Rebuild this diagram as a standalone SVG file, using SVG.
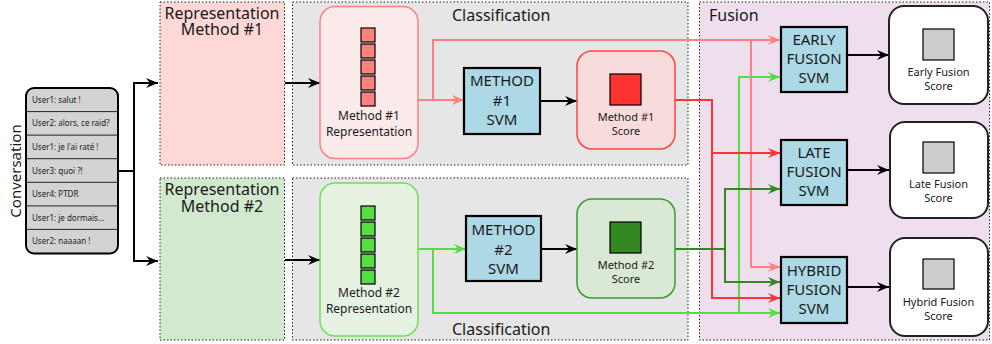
<svg xmlns="http://www.w3.org/2000/svg" width="992" height="344" viewBox="0 0 992 344">
<defs>
<style>
text{font-family:"Noto Sans","Open Sans","DejaVu Sans",sans-serif;fill:#1a1a1a}
.area{stroke:#222;stroke-width:1;stroke-dasharray:1.5 2}
.title{font-size:16px}
.mid{text-anchor:middle}
.row{font-size:8px}
.svm{fill:#add8e6;stroke:#000;stroke-width:2.2}
.svmt{font-size:15px;text-anchor:middle}
.sm{font-size:12px;text-anchor:middle}
.xs{font-size:11px;text-anchor:middle}
.sq{stroke:#000;stroke-width:1.2}
.c{fill:none;stroke-width:2}
.k{stroke:#000}
.pk{stroke:#ff8080}
.rd{stroke:#ff3333}
.gn{stroke:#55dd44}
.dg{stroke:#338822}
</style>
<marker id="ak" viewBox="0 0 12 10" refX="12" refY="5" markerWidth="12" markerHeight="10" markerUnits="userSpaceOnUse" orient="auto"><path d="M0,0 L12,5 L0,10 L4,5 z" fill="#000"/></marker>
<marker id="apk" viewBox="0 0 12 10" refX="12" refY="5" markerWidth="12" markerHeight="10" markerUnits="userSpaceOnUse" orient="auto"><path d="M0,0 L12,5 L0,10 L4,5 z" fill="#ff8080"/></marker>
<marker id="ard" viewBox="0 0 12 10" refX="12" refY="5" markerWidth="12" markerHeight="10" markerUnits="userSpaceOnUse" orient="auto"><path d="M0,0 L12,5 L0,10 L4,5 z" fill="#ff3333"/></marker>
<marker id="agn" viewBox="0 0 12 10" refX="12" refY="5" markerWidth="12" markerHeight="10" markerUnits="userSpaceOnUse" orient="auto"><path d="M0,0 L12,5 L0,10 L4,5 z" fill="#55dd44"/></marker>
<marker id="adg" viewBox="0 0 12 10" refX="12" refY="5" markerWidth="12" markerHeight="10" markerUnits="userSpaceOnUse" orient="auto"><path d="M0,0 L12,5 L0,10 L4,5 z" fill="#338822"/></marker>
</defs>
<rect width="992" height="344" fill="#fff"/>

<g id="areas">
<rect class="area" x="160" y="2" width="124.5" height="163" fill="#fdd8d6"/>
<text class="title mid" x="222" y="18.5">Representation</text>
<text class="title mid" x="222" y="35">Method #1</text>
<rect class="area" x="160" y="178" width="124.5" height="162" fill="#d2e9cf"/>
<text class="title mid" x="222" y="195">Representation</text>
<text class="title mid" x="222" y="211.5">Method #2</text>
<rect class="area" x="292.5" y="2" width="395.5" height="163" fill="#e6e6e6"/>
<text class="title" x="452" y="21">Classification</text>
<rect class="area" x="292.5" y="178" width="395.5" height="162" fill="#e6e6e6"/>
<text class="title" x="452" y="335">Classification</text>
<rect class="area" x="699.5" y="2" width="290" height="338" fill="#efdeed"/>
<text class="title" x="709" y="21">Fusion</text>
</g>

<g id="conversation">
<text x="21" y="171" font-size="15" text-anchor="middle" transform="rotate(-90 21 171)">Conversation</text>
<rect x="26" y="88" width="92" height="165.5" rx="8" fill="#d3d3d3" stroke="#000" stroke-width="2"/>
<path d="M26,111.6H118M26,135.1H118M26,158.7H118M26,182.3H118M26,205.9H118M26,229.4H118" stroke="#222" stroke-width="1"/>
<text class="row" x="32" y="102.8">User1: salut !</text>
<text class="row" x="32" y="126.4">User2: alors, ce raid?</text>
<text class="row" x="32" y="150">User1: je l'ai raté !</text>
<text class="row" x="32" y="173.6">User3: quoi ?!</text>
<text class="row" x="32" y="197.2">User4: PTDR</text>
<text class="row" x="32" y="220.8">User1: je dormais...</text>
<text class="row" x="32" y="244.4">User2: naaaan !</text>
</g>

<g id="connectors">
<path class="c k" d="M118,171H134M134,82V262"/>
<path class="c k" d="M133,83H158" marker-end="url(#ak)"/>
<path class="c k" d="M133,261H158" marker-end="url(#ak)"/>
<path class="c k" d="M285,83H320" marker-end="url(#ak)"/>
<path class="c k" d="M285,260H320" marker-end="url(#ak)"/>
<path class="c pk" d="M418,100H464" marker-end="url(#apk)"/>
<path class="c pk" d="M433,100V40H780" marker-end="url(#apk)"/>
<path class="c pk" d="M751,40V267H780" marker-end="url(#apk)"/>
<path class="c k" d="M540,101H577" marker-end="url(#ak)"/>
<path class="c gn" d="M418,249H466" marker-end="url(#agn)"/>
<path class="c gn" d="M433,249V313H780" marker-end="url(#agn)"/>
<path class="c gn" d="M739,313V77H780" marker-end="url(#agn)"/>
<path class="c k" d="M541,249H577" marker-end="url(#ak)"/>
<path class="c rd" d="M675,100H712V298H780" marker-end="url(#ard)"/>
<path class="c rd" d="M712,153H780" marker-end="url(#ard)"/>
<path class="c dg" d="M675,249H725V189H780" marker-end="url(#adg)"/>
<path class="c dg" d="M725,249V282H780" marker-end="url(#adg)"/>
<path class="c k" d="M847,55H889" marker-end="url(#ak)"/>
<path class="c k" d="M847,170H889" marker-end="url(#ak)"/>
<path class="c k" d="M847,287H889" marker-end="url(#ak)"/>
</g>

<g id="rep1">
<rect x="320" y="6.5" width="98" height="152" rx="15" fill="#faeaea" stroke="#ff8080" stroke-width="1.5"/>
<g fill="#ff8080" class="sq">
<rect x="361" y="28" width="14" height="14"/><rect x="361" y="44" width="14" height="14"/><rect x="361" y="60" width="14" height="14"/><rect x="361" y="76" width="14" height="14"/><rect x="361" y="92" width="14" height="14"/>
</g>
<text class="sm" x="369" y="120">Method #1</text>
<text class="sm" x="369" y="136">Representation</text>
</g>

<g id="rep2">
<rect x="320" y="183" width="98" height="153" rx="15" fill="#e6f3e3" stroke="#6ee05a" stroke-width="1.5"/>
<g fill="#55dd44" class="sq">
<rect x="361" y="206" width="14" height="14"/><rect x="361" y="222" width="14" height="14"/><rect x="361" y="238" width="14" height="14"/><rect x="361" y="254" width="14" height="14"/><rect x="361" y="270" width="14" height="14"/>
</g>
<text class="sm" x="369" y="297">Method #2</text>
<text class="sm" x="369" y="313">Representation</text>
</g>

<g id="svm1">
<rect class="svm" x="464" y="68" width="76" height="66"/>
<text class="svmt" x="502" y="86">METHOD</text>
<text class="svmt" x="502" y="106">#1</text>
<text class="svmt" x="502" y="125">SVM</text>
</g>

<g id="svm2">
<rect class="svm" x="466" y="216" width="75" height="65"/>
<text class="svmt" x="503.5" y="235">METHOD</text>
<text class="svmt" x="503.5" y="255">#2</text>
<text class="svmt" x="503.5" y="274">SVM</text>
</g>

<g id="score1">
<rect x="577" y="51" width="98" height="98" rx="15" fill="#f8dcdc" stroke="#ff4444" stroke-width="1.5"/>
<rect class="sq" x="610" y="74" width="31" height="31" fill="#ff3333" stroke-width="1.5"/>
<text class="xs" x="626" y="121">Method #1</text>
<text class="xs" x="626" y="135">Score</text>
</g>

<g id="score2">
<rect x="577" y="199" width="98" height="99" rx="15" fill="#dae9d6" stroke="#3d9a2e" stroke-width="1.5"/>
<rect class="sq" x="610" y="222" width="31" height="31" fill="#338822" stroke-width="1.5"/>
<text class="xs" x="626" y="269">Method #2</text>
<text class="xs" x="626" y="283">Score</text>
</g>

<g id="early-svm">
<rect class="svm" x="781" y="27" width="66" height="65"/>
<text class="svmt" x="814" y="45">EARLY</text>
<text class="svmt" x="814" y="64">FUSION</text>
<text class="svmt" x="814" y="83">SVM</text>
</g>

<g id="late-svm">
<rect class="svm" x="781" y="140" width="66" height="65"/>
<text class="svmt" x="814" y="158">LATE</text>
<text class="svmt" x="814" y="177">FUSION</text>
<text class="svmt" x="814" y="196">SVM</text>
</g>

<g id="hybrid-svm">
<rect class="svm" x="781" y="257" width="66" height="66"/>
<text class="svmt" x="814" y="276">HYBRID</text>
<text class="svmt" x="814" y="295">FUSION</text>
<text class="svmt" x="814" y="314">SVM</text>
</g>

<g id="early-score">
<rect x="889" y="6" width="99" height="98" rx="15" fill="#fff" stroke="#222" stroke-width="2"/>
<rect class="sq" x="923" y="29" width="31" height="31" fill="#cccccc" stroke-width="2"/>
<text class="xs" x="938.5" y="76">Early Fusion</text>
<text class="xs" x="938.5" y="90">Score</text>
</g>

<g id="late-score">
<rect x="890" y="122" width="98" height="96" rx="15" fill="#fff" stroke="#222" stroke-width="2"/>
<rect class="sq" x="923" y="142" width="31" height="31" fill="#cccccc" stroke-width="2"/>
<text class="xs" x="938.5" y="188">Late Fusion</text>
<text class="xs" x="938.5" y="202">Score</text>
</g>

<g id="hybrid-score">
<rect x="890" y="238" width="98" height="98" rx="15" fill="#fff" stroke="#222" stroke-width="2"/>
<rect class="sq" x="923" y="259" width="31" height="30" fill="#cccccc" stroke-width="2"/>
<text class="xs" x="938.5" y="306">Hybrid Fusion</text>
<text class="xs" x="938.5" y="320">Score</text>
</g>
</svg>
